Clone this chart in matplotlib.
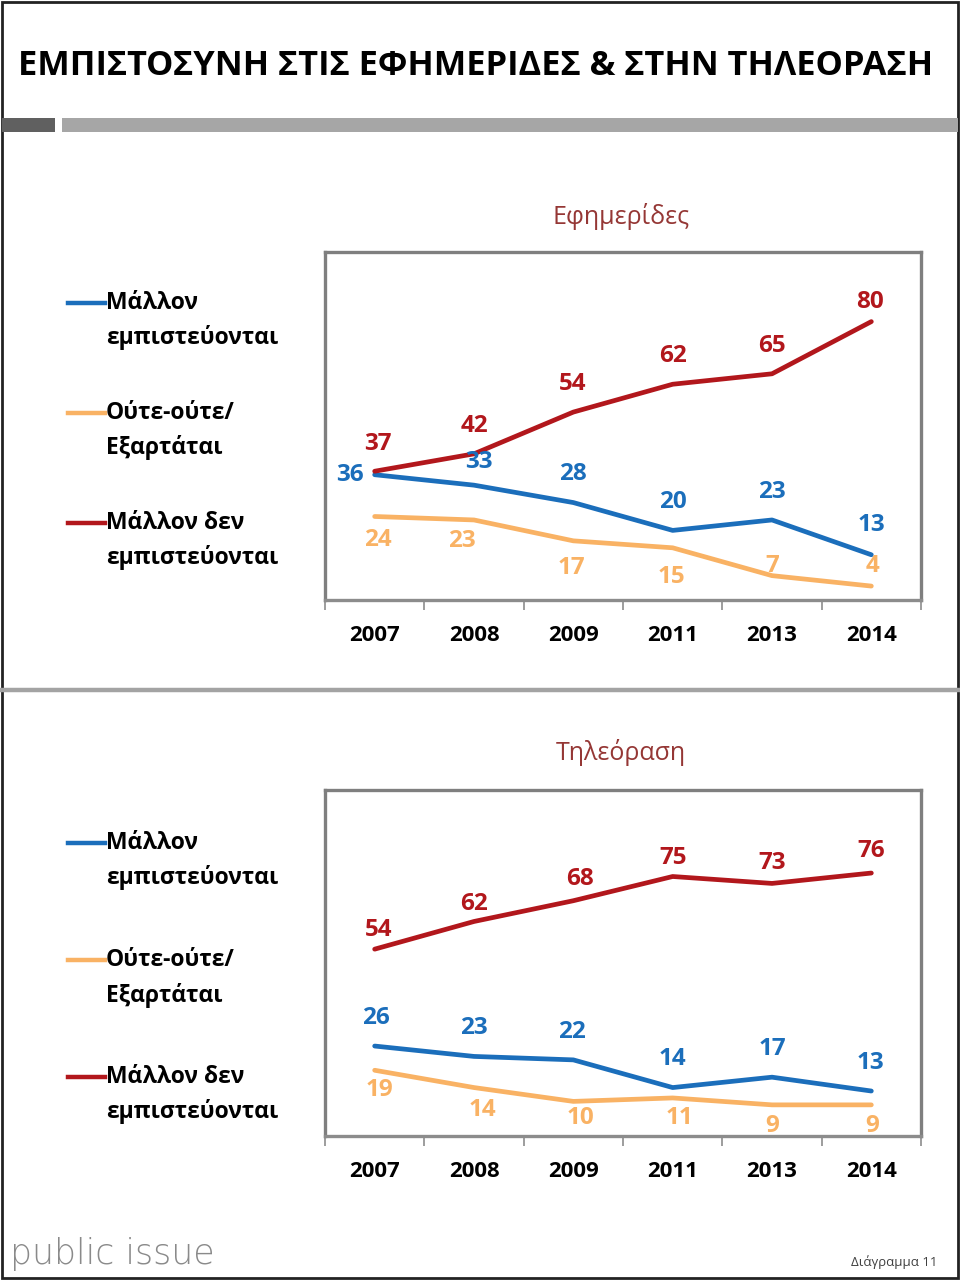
import matplotlib
matplotlib.use('Agg')
import matplotlib.pyplot as plt
from matplotlib import font_manager
from matplotlib.patches import Rectangle

# data
years = ['2007', '2008', '2009', '2011', '2013', '2014']
press_trust = [36, 33, 28, 20, 23, 13]
press_neutral = [24, 23, 17, 15, 7, 4]
press_distrust = [37, 42, 54, 62, 65, 80]
tv_trust = [26, 23, 22, 14, 17, 13]
tv_neutral = [19, 14, 10, 11, 9, 9]
tv_distrust = [54, 62, 68, 75, 73, 76]
series_names = ['Μάλλον\nεμπιστεύονται', 'Ούτε-ούτε/\nΕξαρτάται', 'Μάλλον δεν\nεμπιστεύονται']
panel_titles = ['Εφημερίδες', 'Τηλεόραση']

BLUE = '#1B6EBB'
ORANGE = '#F9B264'
RED = '#B2171C'
colors = [BLUE, ORANGE, RED]

# label offsets in pixels (dx, dy), one per point
press_offsets = [
    [(-25, 0), (5, 23), (0, 29), (0, 28), (0, 28), (0, 30)],
    [(3, -24), (-12, -21), (-2, -27), (-1, -29), (0, 10), (1, 20)],
    [(3, 27), (0, 28), (-1, 28), (0, 28), (0, 28), (-1, 20)],
]
tv_offsets = [
    [(1, 28), (0, 28), (-1, 28), (0, 29), (0, 28), (-1, 28)],
    [(5, -20), (8, -22), (7, -17), (7, -20), (0, -21), (1, -21)],
    [(4, 19), (0, 17), (7, 22), (0, 19), (0, 20), (0, 22)],
]

names = {f.name for f in font_manager.fontManager.ttflist}
FONT = ['Open Sans', 'DejaVu Sans']
TITLE_FONT = ['Liberation Sans Narrow', 'Open Sans', 'DejaVu Sans'] if 'Liberation Sans Narrow' in names else FONT
plt.rcParams['font.family'] = FONT

W, H = 960, 1280
fig = plt.figure(figsize=(W / 100, H / 100), dpi=100)

# page decorations drawn in pixel space
bg = fig.add_axes([0, 0, 1, 1])
bg.set_xlim(0, W)
bg.set_ylim(H, 0)
bg.axis('off')
bg.add_patch(Rectangle((2, 2), 956, 1276, fill=False, ec='#222222', lw=2))
bg.add_patch(Rectangle((2, 118), 53, 14, fc='#606060', ec='none'))
bg.add_patch(Rectangle((62, 118), 896, 14, fc='#A6A6A6', ec='none'))
bg.plot([2, 958], [690, 690], color='#A3A3A3', lw=3.2)

title = bg.text(18, 66, 'ΕΜΠΙΣΤΟΣΥΝΗ ΣΤΙΣ ΕΦΗΜΕΡΙΔΕΣ & ΣΤΗΝ ΤΗΛΕΟΡΑΣΗ', fontsize=26,
                fontweight='bold', family=TITLE_FONT, ha='left', va='center', color='black')
fig.canvas.draw()
tw = title.get_window_extent().width
title.set_fontsize(26 * 917 / tw)

bg.text(10, 1254, 'public issue', fontsize=25, color='#8A8A8A', ha='left', va='center',
        family=['DejaVu Sans'], fontweight='light')
bg.text(937, 1262, 'Διάγραμμα 11', fontsize=9.5, color='#404040', ha='right', va='center')


def legend(y0, gap):
    for i, (name, c) in enumerate(zip(series_names, colors)):
        y = y0 + i * gap
        bg.plot([68, 105], [y, y], color=c, lw=3.2)
        first, second = name.split('\n')
        bg.text(106, y, first, fontsize=16.5, fontweight='bold', ha='left', va='center')
        bg.text(106, y + 35, second, fontsize=16.5, fontweight='bold', ha='left', va='center')


def panel(top, bottom, sub_y, subtitle, data, offsets):
    ax = fig.add_axes([325 / W, 1 - bottom / H, 596 / W, (bottom - top) / H])
    x = list(range(len(years)))
    for vals, c, offs in zip(data, colors, offsets):
        ax.plot(x, vals, color=c, lw=3.4, solid_capstyle='round', solid_joinstyle='round', zorder=3)
        for xi, v, (dx, dy) in zip(x, vals, offs):
            ax.annotate(str(v), (xi, v), xytext=(dx, dy), textcoords='offset pixels',
                        ha='center', va='center', fontsize=17.5, fontweight='bold', color=c, zorder=4)
    ax.set_xlim(-0.5, len(years) - 0.5)
    ax.set_ylim(0, 100)
    ax.set_yticks([])
    ax.set_xticks(x)
    ax.set_xticklabels(years, fontsize=16, fontweight='bold')
    ax.tick_params(axis='x', which='major', length=0, pad=18)
    ax.set_xticks([i - 0.5 for i in range(len(years) + 1)], minor=True)
    ax.tick_params(axis='x', which='minor', length=7, width=1.2, color='#8C8C8C', direction='out')
    for s in ax.spines.values():
        s.set_color('#7F7F7F')
        s.set_linewidth(2.4)
    ax.spines['bottom'].set_color('#8C8C8C')
    bg.text(621, sub_y, subtitle, fontsize=18, color='#953735', ha='center', va='center')
    return ax


panel(252, 600, 217, panel_titles[0], [press_trust, press_neutral, press_distrust], press_offsets)
panel(790, 1136, 753, panel_titles[1], [tv_trust, tv_neutral, tv_distrust], tv_offsets)
legend(303, 110)
legend(843, 117)

fig.savefig('out.png', dpi=100)
